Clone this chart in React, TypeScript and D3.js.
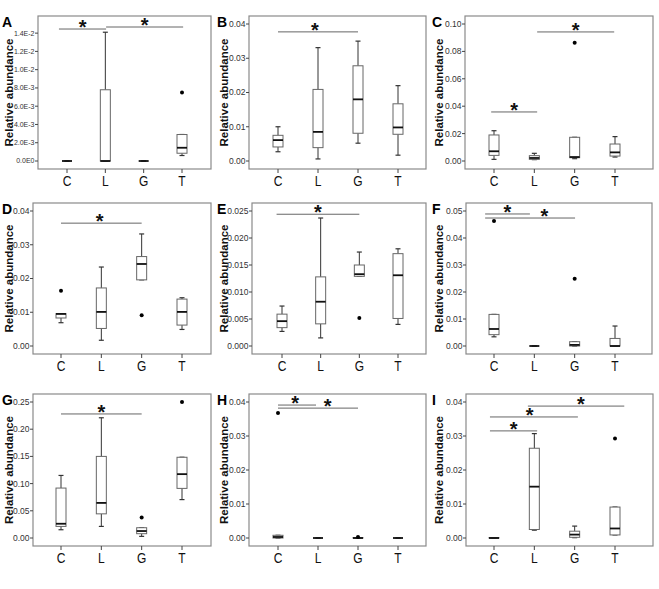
import React from "react";
import * as d3 from "d3";

const categories = ["C", "L", "G", "T"];

// box stats per category: [lower whisker, Q1, median, Q3, upper whisker]
const statsA = [[0, 0, 0, 0, 0], [0, 0, 0, 0.0078, 0.0141], [0, 0, 0, 0, 0], [0.0006, 0.00085, 0.00145, 0.0029, 0.0029]];
const statsB = [[0.0027, 0.0041, 0.0061, 0.0075, 0.01], [0.0006, 0.0039, 0.0085, 0.0209, 0.0331], [0.0052, 0.0081, 0.018, 0.0278, 0.035], [0.0017, 0.0078, 0.0098, 0.0167, 0.022]];
const statsC = [[0.0012, 0.0041, 0.0071, 0.019, 0.0221], [0.001, 0.0012, 0.0022, 0.0039, 0.0056], [0.0017, 0.0024, 0.0029, 0.0173, 0.0173], [0.0029, 0.0036, 0.0063, 0.0124, 0.0178]];
const statsD = [[0.0069, 0.0083, 0.0095, 0.0096, 0.0096], [0.0017, 0.0052, 0.0101, 0.0172, 0.0234], [0.0196, 0.0196, 0.0243, 0.0265, 0.0332], [0.0049, 0.0062, 0.0101, 0.0139, 0.0143]];
const statsE = [[0.0027, 0.0034, 0.0046, 0.0059, 0.0074], [0.0015, 0.0041, 0.0082, 0.0128, 0.0237], [0.0129, 0.0129, 0.0133, 0.015, 0.0174], [0.004, 0.0051, 0.0131, 0.0171, 0.018]];
const statsF = [[0.0034, 0.0042, 0.0063, 0.0117, 0.0117], [0, 0, 0, 0, 0], [0, 0, 0.0004, 0.0016, 0.0016], [0, 0, 0, 0.0028, 0.0074]];
const statsG = [[0.0152, 0.0213, 0.0262, 0.0918, 0.115], [0.0213, 0.0444, 0.0645, 0.15, 0.221], [0.003, 0.0079, 0.0128, 0.0189, 0.0189], [0.0706, 0.0912, 0.1174, 0.1484, 0.1484]];
const statsH = [[0, 0, 0.0003, 0.0008, 0.0008], [0, 0, 0, 0, 0], [0, 0, 0, 0.0001, 0.0001], [0, 0, 0, 0, 0]];
const statsI = [[0, 0, 0, 0.0001, 0.0001], [0.0023, 0.0025, 0.0151, 0.0264, 0.0307], [0.0001, 0.0002, 0.001, 0.002, 0.0035], [0.0009, 0.0009, 0.0028, 0.0091, 0.0091]];

// outliers: [category index, value]
const outliersA = [[3, 0.0075]];
const outliersB: number[][] = [];
const outliersC = [[2, 0.0864]];
const outliersD = [[0, 0.0164], [2, 0.0091]];
const outliersE = [[2, 0.0052]];
const outliersF = [[0, 0.0463], [2, 0.0249]];
const outliersG = [[2, 0.0377], [3, 0.25]];
const outliersH = [[0, 0.0368], [2, 0.0003]];
const outliersI = [[3, 0.0293]];

// significance bars: [from (category index), to (category index), value, star position along bar]
const sigA = [[-0.21, 1.02, 0.01445, 0.5], [1.02, 3.03, 0.01467, 0.5]];
const sigB = [[0, 2, 0.0377, 0.46]];
const sigC = [[-0.07, 1.07, 0.0358, 0.5], [1.07, 2.98, 0.0942, 0.5]];
const sigD = [[0, 2, 0.0364, 0.48]];
const sigE = [[-0.14, 2.0, 0.0244, 0.5]];
const sigF = [[-0.22, 0.89, 0.0489, 0.5], [-0.22, 2.01, 0.0474, 0.66]];
const sigG = [[0, 2, 0.228, 0.5]];
const sigH = [[0, 0.95, 0.0391, 0.45], [0, 2, 0.0382, 0.62]];
const sigI = [[-0.1, 1.07, 0.0315, 0.5], [-0.1, 2.08, 0.0356, 0.45], [0.84, 3.23, 0.0388, 0.55]];

// y-axis ticks
const ticksA = [0, 0.002, 0.004, 0.006, 0.008, 0.01, 0.012, 0.014];
const tickLabelsA = ["0.0E0", "2.0E-3", "4.0E-3", "6.0E-3", "8.0E-3", "1.0E-2", "1.2E-2", "1.4E-2"];
const ticks004 = [0, 0.01, 0.02, 0.03, 0.04];
const ticksC = [0, 0.02, 0.04, 0.06, 0.08, 0.1];
const ticksE = [0, 0.005, 0.01, 0.015, 0.02, 0.025];
const ticksF = [0, 0.01, 0.02, 0.03, 0.04, 0.05];
const ticksG = [0, 0.05, 0.1, 0.15, 0.2, 0.25];

const letters = ["A", "B", "C", "D", "E", "F", "G", "H", "I"];
const yMaxes = [0.015, 0.04, 0.1, 0.04, 0.025, 0.05, 0.25, 0.04, 0.04];

const f2 = d3.format(".2f");
const f3 = d3.format(".3f");

const panels = [
  { stats: statsA, out: outliersA, sig: sigA, ticks: ticksA, fmt: (v: number, i: number) => tickLabelsA[i], x0: 38, x1: 211, y0: 16, y1: 169, c0: 67, c1: 182, tfs: 7 },
  { stats: statsB, out: outliersB, sig: sigB, ticks: ticks004, fmt: f2, x0: 249, x1: 426, y0: 16, y1: 169, c0: 278, c1: 398, tfs: 8.5 },
  { stats: statsC, out: outliersC, sig: sigC, ticks: ticksC, fmt: f2, x0: 465, x1: 653, y0: 16, y1: 169, c0: 494, c1: 615, tfs: 8.5 },
  { stats: statsD, out: outliersD, sig: sigD, ticks: ticks004, fmt: f2, x0: 33, x1: 211, y0: 203, y1: 354, c0: 61, c1: 182, tfs: 8.5 },
  { stats: statsE, out: outliersE, sig: sigE, ticks: ticksE, fmt: f3, x0: 252, x1: 426, y0: 203, y1: 354, c0: 282, c1: 398, tfs: 8.5 },
  { stats: statsF, out: outliersF, sig: sigF, ticks: ticksF, fmt: f2, x0: 466, x1: 652, y0: 203, y1: 354, c0: 494, c1: 615, tfs: 8.5 },
  { stats: statsG, out: outliersG, sig: sigG, ticks: ticksG, fmt: f2, x0: 33, x1: 211, y0: 394, y1: 546, c0: 61, c1: 182, tfs: 8.5 },
  { stats: statsH, out: outliersH, sig: sigH, ticks: ticks004, fmt: f2, x0: 249, x1: 426, y0: 394, y1: 546, c0: 278, c1: 398, tfs: 8.5 },
  { stats: statsI, out: outliersI, sig: sigI, ticks: ticks004, fmt: f2, x0: 466, x1: 653, y0: 394, y1: 546, c0: 494, c1: 615, tfs: 8.5 },
];

const colOrigins = [0, 215, 430];
const FONT = "'Liberation Sans', Arial, sans-serif";

function Panel({ p, idx }: { p: any; idx: number }) {
  const x = d3.scalePoint<string>().domain(categories).range([p.c0, p.c1]);
  const step = x.step();
  const xi = (i: number) => p.c0 + i * step;
  const y = d3.scaleLinear().domain([0, yMaxes[idx]]).range([p.y1 - 8, p.y0 + 8]);
  const bw = 10;
  const cw = 5;
  const ox = colOrigins[idx % 3];
  const midY = (p.y0 + p.y1) / 2;
  return (
    <g>
      {/* panel letter */}
      <text x={ox + 2} y={p.y0 + 11} fontFamily={FONT} fontWeight="bold" fontSize={14} fill="#000">
        {letters[idx]}
      </text>
      {/* y label */}
      <text
        transform={`translate(${ox + 13},${midY}) rotate(-90)`}
        textAnchor="middle"
        fontFamily={FONT}
        fontWeight="bold"
        fontSize={11.5}
        fill="#111"
      >
        Relative abundance
      </text>
      {/* frame */}
      <rect x={p.x0} y={p.y0} width={p.x1 - p.x0} height={p.y1 - p.y0} fill="none" stroke="#8a8a8a" strokeWidth={1.2} />
      {/* y ticks */}
      {p.ticks.map((t: number, i: number) => (
        <g key={"t" + i}>
          <line x1={p.x0 - 3} x2={p.x0} y1={y(t)} y2={y(t)} stroke="#444" />
          <text x={p.x0 - 3.5} y={y(t)} dy="0.35em" textAnchor="end" fontFamily={FONT} fontSize={p.tfs} fill="#333">
            {p.fmt(t, i)}
          </text>
        </g>
      ))}
      {/* x ticks & labels */}
      {categories.map((c) => (
        <g key={"x" + c}>
          <line x1={x(c)} x2={x(c)} y1={p.y1} y2={p.y1 + 4} stroke="#444" />
          <text
            transform={`translate(${x(c)},${p.y1 + 17}) scale(0.8,1)`}
            textAnchor="middle"
            fontFamily={FONT}
            fontSize={15}
            fill="#111"
          >
            {c}
          </text>
        </g>
      ))}
      {/* boxes */}
      {p.stats.map((s: number[], i: number) => {
        const cx = x(categories[i]) as number;
        const [lo, q1, med, q3, hi] = s;
        return (
          <g key={"b" + i}>
            <line x1={cx} x2={cx} y1={y(q3)} y2={y(hi)} stroke="#333" strokeWidth={1} />
            <line x1={cx} x2={cx} y1={y(q1)} y2={y(lo)} stroke="#333" strokeWidth={1} />
            <line x1={cx - cw / 2} x2={cx + cw / 2} y1={y(hi)} y2={y(hi)} stroke="#333" strokeWidth={1.2} />
            <line x1={cx - cw / 2} x2={cx + cw / 2} y1={y(lo)} y2={y(lo)} stroke="#333" strokeWidth={1.2} />
            <rect x={cx - bw / 2} y={y(q3)} width={bw} height={Math.max(0, y(q1) - y(q3))} fill="#fff" stroke="#666" strokeWidth={1} />
            <line x1={cx - bw / 2} x2={cx + bw / 2} y1={y(med)} y2={y(med)} stroke="#111" strokeWidth={1.8} />
          </g>
        );
      })}
      {/* outliers */}
      {p.out.map((o: number[], i: number) => (
        <circle key={"o" + i} cx={x(categories[o[0]]) as number} cy={y(o[1])} r={2} fill="#000" />
      ))}
      {/* significance */}
      {p.sig.map((s: number[], i: number) => {
        const xa = xi(s[0]);
        const xb = xi(s[1]);
        const yy = y(s[2]);
        const sx = xa + (xb - xa) * s[3];
        return (
          <g key={"s" + i}>
            <line x1={xa} x2={xb} y1={yy} y2={yy} stroke="#666" strokeWidth={1} />
            <text x={sx} y={yy + 5} textAnchor="middle" fontFamily={FONT} fontWeight="bold" fontSize={20} fill="#111">
              *
            </text>
          </g>
        );
      })}
    </g>
  );
}

export default function App() {
  return (
    <svg
      width={659}
      height={589}
      viewBox="0 0 659 589"
      style={{ position: "absolute", left: 0, top: 0, background: "#fff" }}
    >
      <rect x={0} y={0} width={659} height={589} fill="#fff" />
      {panels.map((p, i) => (
        <Panel key={i} p={p} idx={i} />
      ))}
    </svg>
  );
}
